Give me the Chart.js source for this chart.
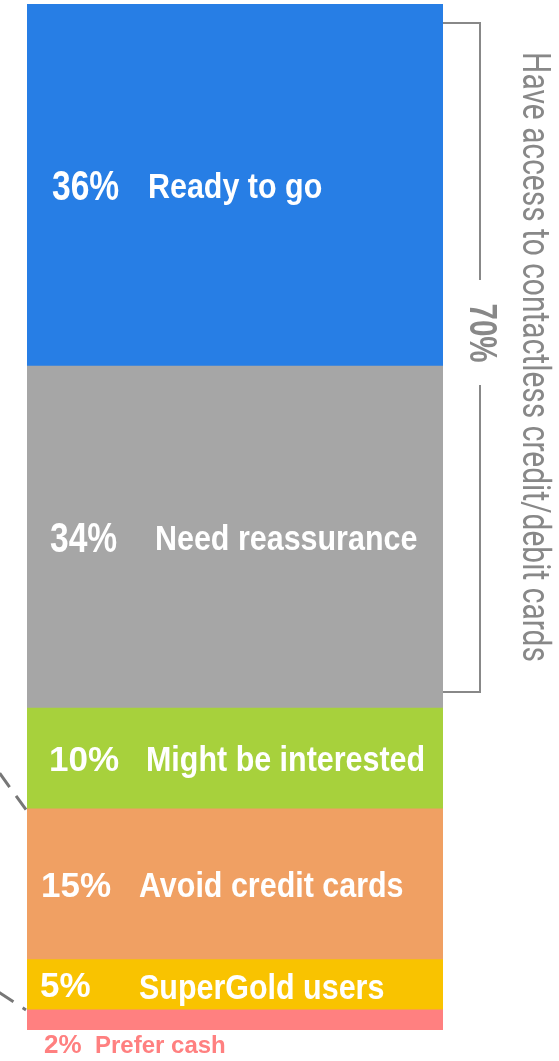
<!DOCTYPE html>
<html>
<head>
<meta charset="utf-8">
<script src="https://cdn.jsdelivr.net/npm/chart.js@4"></script>
<style>
  html, body { margin: 0; padding: 0; background: #fff; }
  #wrap { width: 559px; height: 1061px; position: relative; }
</style>
</head>
<body>
<div id="wrap"><canvas id="stackChart"></canvas></div>
<script>
// segments, bottom to top
const segmentNames = ['Prefer cash', 'SuperGold users', 'Avoid credit cards', 'Might be interested', 'Need reassurance', 'Ready to go'];
const segmentValues = [2, 5, 15, 10, 34, 36];
const segmentColors = ['#FF8080', '#F9C300', '#F0A063', '#A7D13C', '#A6A6A6', '#277EE5'];
const bracketValue = '70%';
const bracketText = 'Have access to contactless credit/debit cards';

// where each label sits (x of percent, x of name), same order as above
const labelLayout = [
    { pctX: 44, nameX: 95, pctFont: 26, pctScale: 1, nameFont: 24, nameScale: 1 },
    { pctX: 40, nameX: 139, pctFont: 35, pctScale: 1, nameFont: 35, nameScale: 0.87 },
    { pctX: 41, nameX: 139, pctFont: 35, pctScale: 1, nameFont: 35, nameScale: 0.87 },
    { pctX: 49, nameX: 146, pctFont: 35, pctScale: 1, nameFont: 35, nameScale: 0.87 },
    { pctX: 50, nameX: 155, pctFont: 42, pctScale: 0.8, nameFont: 35, nameScale: 0.87 },
    { pctX: 52, nameX: 148, pctFont: 42, pctScale: 0.8, nameFont: 35, nameScale: 0.87 }
];

const FONT = '"Liberation Sans", Arial, sans-serif';

function drawText(ctx, text, x, y, size, sx, bold, color) {
    ctx.save();
    ctx.translate(x, y);
    ctx.scale(sx, 1);
    ctx.font = (bold ? 'bold ' : '') + size + 'px ' + FONT;
    ctx.fillStyle = color;
    ctx.textAlign = 'left';
    ctx.textBaseline = 'alphabetic';
    ctx.fillText(text, 0, 0);
    ctx.restore();
}

// rotated text reading top to bottom, squeezed to a given length
function drawVertical(ctx, text, x, yMid, font, length) {
    ctx.save();
    ctx.font = font;
    const w = ctx.measureText(text).width;
    ctx.translate(x, yMid);
    ctx.rotate(Math.PI / 2);
    ctx.scale(length / w, 1);
    ctx.fillStyle = '#888';
    ctx.textAlign = 'center';
    ctx.textBaseline = 'alphabetic';
    ctx.fillText(text, 0, 0);
    ctx.restore();
}

const labelsPlugin = {
    id: 'segmentLabels',
    afterDatasetsDraw(chart) {
        const ctx = chart.ctx;
        chart.data.datasets.forEach((ds, i) => {
            const bar = chart.getDatasetMeta(i).data[0];
            const lay = labelLayout[i];
            const pct = segmentValues[i] + '%';
            if (i === 0) {
                // smallest one gets its label under the bar
                const y = bar.base + 23;
                drawText(ctx, pct, lay.pctX, y, lay.pctFont, lay.pctScale, true, segmentColors[i]);
                drawText(ctx, segmentNames[i], lay.nameX, y, lay.nameFont, lay.nameScale, true, segmentColors[i]);
                return;
            }
            const mid = (bar.y + bar.base) / 2;
            drawText(ctx, pct, lay.pctX, mid + lay.pctFont * 0.716 / 2, lay.pctFont, lay.pctScale, true, '#fff');
            drawText(ctx, segmentNames[i], lay.nameX, mid + lay.nameFont * 0.716 / 2 + (i === 1 ? 2 : 0), lay.nameFont, lay.nameScale, true, '#fff');
        });
    }
};

const bracketPlugin = {
    id: 'bracket',
    afterDraw(chart) {
        const ctx = chart.ctx;
        const area = chart.chartArea;
        const yScale = chart.scales.y;
        const total = segmentValues.reduce((a, b) => a + b, 0);
        const topY = yScale.getPixelForValue(total) + 19;
        const grayBar = chart.getDatasetMeta(4).data[0];
        const botY = grayBar.base - 16;
        const lx = 480;

        ctx.save();
        ctx.strokeStyle = '#888';
        ctx.lineWidth = 2;
        ctx.beginPath();
        ctx.moveTo(area.right, topY);
        ctx.lineTo(lx, topY);
        ctx.lineTo(lx, 280);
        ctx.moveTo(lx, 385);
        ctx.lineTo(lx, botY);
        ctx.lineTo(area.right, botY);
        ctx.stroke();
        ctx.restore();

        drawVertical(ctx, bracketValue, 470, 333, 'bold 39px ' + FONT, 59);
        drawVertical(ctx, bracketText, 523, 357, '39px Roboto, ' + FONT, 610);

        // dashed connectors coming in from the left
        const greenBar = chart.getDatasetMeta(3).data[0];
        const pinkBar = chart.getDatasetMeta(0).data[0];
        ctx.save();
        ctx.strokeStyle = '#777';
        ctx.lineWidth = 3;
        ctx.setLineDash([17, 11]);
        ctx.beginPath();
        ctx.moveTo(area.left - 1, greenBar.base + 1);
        ctx.lineTo(area.left - 40, greenBar.base - 53);
        ctx.stroke();
        ctx.lineDashOffset = 13;
        ctx.beginPath();
        ctx.moveTo(area.left - 1, pinkBar.y);
        ctx.lineTo(area.left - 50, pinkBar.y - 32);
        ctx.stroke();
        ctx.restore();
    }
};

const ctx = document.getElementById('stackChart').getContext('2d');
new Chart(ctx, {
    type: 'bar',
    data: {
        labels: [''],
        datasets: segmentValues.map((v, i) => ({
            label: segmentNames[i],
            data: [v],
            backgroundColor: segmentColors[i],
            borderWidth: 0,
            barPercentage: 1,
            categoryPercentage: 1
        }))
    },
    options: {
        responsive: true,
        maintainAspectRatio: false,
        animation: false,
        layout: { padding: { top: 4, bottom: 31, left: 27, right: 116 } },
        plugins: {
            legend: { display: false },
            tooltip: { enabled: false }
        },
        scales: {
            x: { stacked: true, display: false },
            y: { stacked: true, display: false, min: 0, max: 102 }
        }
    },
    plugins: [labelsPlugin, bracketPlugin]
});
</script>
</body>
</html>
